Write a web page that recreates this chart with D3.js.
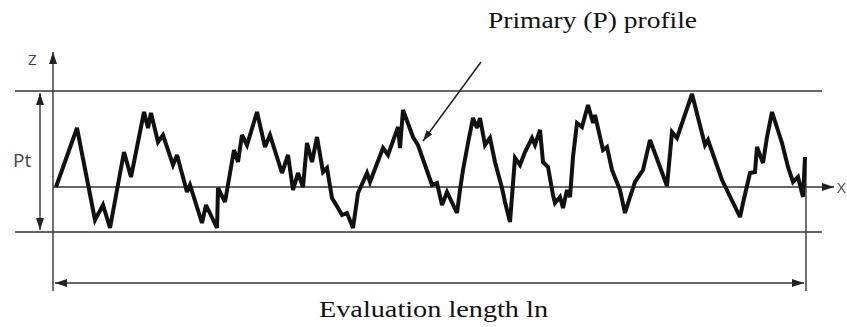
<!DOCTYPE html>
<html><head><meta charset="utf-8">
<script src="https://cdn.jsdelivr.net/npm/d3@7"></script>
<style>body{margin:0;background:#fff}svg{display:block}
.serif{font-family:"Liberation Serif","Times New Roman",Times,serif}
.sans{font-family:"Open Sans","Noto Sans",sans-serif}</style>
</head><body>
<svg id="c" width="847" height="327"></svg>
<script>
// profile data: position along evaluation length, height Z (relative to mean line)
const profileX = [1,22,40,48,55,69,76,89,93,96,103,108,118,122,132,135,147,151,162,163,170,179,183,187,192,202,210,215,227,233,238,243,248,252,257,262,268,272,277,283,287,292,298,303,312,315,328,333,343,345,348,358,363,370,377,382,387,392,402,405,408,413,418,422,425,430,435,440,447,450,455,460,465,470,477,480,485,488,493,498,500,505,508,512,515,518,522,527,533,538,540,548,552,557,565,570,575,580,588,595,612,617,622,637,650,653,667,685,688,695,700,702,708,712,717,727,733,738,743,748,750];
const profileZ = [0,59,-33,-18,-41,35,10,75,59,74,45,52,22,32,-5,2,-36,-18,-41,-1,-15,37,25,52,42,75,40,52,14,32,-3,14,0,44,25,50,15,19,-11,-21,-28,-26,-41,-6,14,5,39,32,60,39,77,50,42,22,2,4,-18,-5,-26,-3,17,44,69,59,69,42,49,25,-1,-15,-35,29,22,35,49,42,57,25,20,-8,-16,-10,-21,-3,-10,30,64,60,82,64,72,37,40,17,-3,-26,-10,5,17,47,1,55,49,93,42,47,7,-30,-16,14,15,40,24,50,75,44,20,5,10,-10,30];
const peakZ = 96, valleyZ = -45;           // Pt limits
const evalLength = 750;
const labels = {title:"Primary (P) profile", bottom:"Evaluation length ln", z:"Z", x:"X", pt:"Pt"};

const svg = d3.select("#c");
const x = d3.scaleLinear().domain([0, evalLength]).range([55, 805]);
const y = d3.scaleLinear().domain([valleyZ, peakZ]).range([232, 91]);

const defs = svg.append("defs");
function marker(id, w, h, color){
  defs.append("marker").attr("id", id).attr("viewBox", `0 0 ${w} ${h}`)
    .attr("refX", w).attr("refY", h/2).attr("markerWidth", w).attr("markerHeight", h)
    .attr("markerUnits","userSpaceOnUse").attr("orient","auto-start-reverse")
    .append("path").attr("d", `M0,0L${w},${h/2}L0,${h}Z`).attr("fill", color);
}
marker("ah", 12, 8, "#222");
marker("ahs", 11, 7, "#222");

const lc = "#333";
svg.append("line").attr("x1",15).attr("x2",822).attr("y1",y(peakZ)).attr("y2",y(peakZ)).attr("stroke",lc).attr("stroke-width",1.6);
svg.append("line").attr("x1",15).attr("x2",822).attr("y1",y(valleyZ)).attr("y2",y(valleyZ)).attr("stroke",lc).attr("stroke-width",1.6);
svg.append("line").attr("x1",53).attr("x2",834).attr("y1",y(0)).attr("y2",y(0)).attr("stroke",lc).attr("stroke-width",1.4).attr("marker-end","url(#ah)");
svg.append("line").attr("x1",53).attr("x2",53).attr("y1",291).attr("y2",52).attr("stroke",lc).attr("stroke-width",1.4).attr("marker-end","url(#ah)");
svg.append("line").attr("x1",x(evalLength)+1).attr("x2",x(evalLength)+1).attr("y1",y(profileZ[profileZ.length-1])).attr("y2",291).attr("stroke",lc).attr("stroke-width",1.4);
svg.append("line").attr("x1",40).attr("x2",40).attr("y1",y(peakZ)+2).attr("y2",y(valleyZ)-2).attr("stroke",lc).attr("stroke-width",1.4)
  .attr("marker-start","url(#ah)").attr("marker-end","url(#ah)");
svg.append("line").attr("x1",x(0)).attr("x2",x(evalLength)-1).attr("y1",283).attr("y2",283).attr("stroke",lc).attr("stroke-width",1.6)
  .attr("marker-start","url(#ah)").attr("marker-end","url(#ah)");

const line = d3.line().x((d,i)=>x(profileX[i])).y(d=>y(d));
svg.append("path").datum(profileZ).attr("d", line).attr("fill","none").attr("stroke","#111")
  .attr("stroke-width",4).attr("stroke-linejoin","miter").attr("stroke-miterlimit",3);

svg.append("line").attr("x1",481).attr("y1",62).attr("x2",423).attr("y2",141).attr("stroke","#222").attr("stroke-width",1.5).attr("marker-end","url(#ahs)");

svg.append("text").attr("class","serif").attr("x",488).attr("y",28).attr("textLength",209).attr("lengthAdjust","spacingAndGlyphs")
  .attr("font-size",24).attr("fill","#111").text(labels.title);
svg.append("text").attr("class","serif").attr("x",319).attr("y",317).attr("textLength",229).attr("lengthAdjust","spacingAndGlyphs")
  .attr("font-size",24).attr("fill","#111").text(labels.bottom);
svg.append("text").attr("class","sans").attr("x",28).attr("y",65)
  .attr("font-size",15).attr("fill","#444").text(labels.z);
svg.append("text").attr("class","sans").attr("x",13).attr("y",167)
  .attr("font-size",19).attr("fill","#444").text(labels.pt);
svg.append("text").attr("class","sans").attr("x",837).attr("y",193)
  .attr("font-size",15).attr("fill","#444").text(labels.x);
</script>
</body></html>
